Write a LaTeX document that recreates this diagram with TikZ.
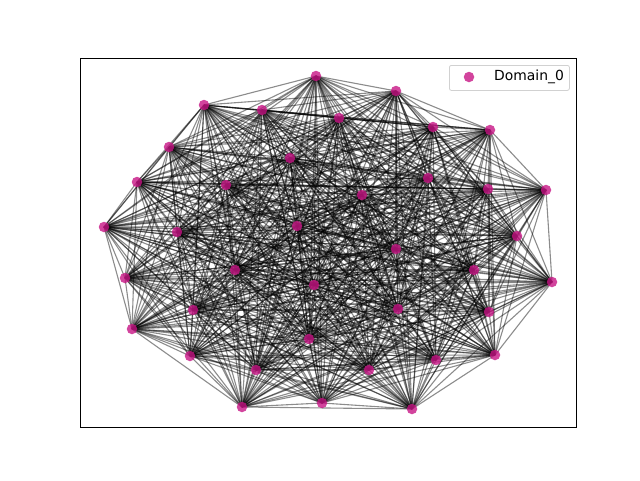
\documentclass[tikz,border=0pt]{standalone}
\usepackage{fontspec}
\setsansfont{DejaVu Sans}
\usetikzlibrary{backgrounds}
\definecolor{domaincol}{RGB}{199,21,133}

\begin{document}
\begin{tikzpicture}[x=1pt,y=-1pt,
    dot/.style={circle, fill=domaincol, fill opacity=0.8, draw=none, minimum size=10.5pt, inner sep=0pt},
    edge/.style={black, opacity=0.45, line width=1.1pt},
    frame/.style={draw=black, line width=1.1pt},
    legbox/.style={draw=black!18, fill=white, fill opacity=0.8, rounded corners=2pt, line width=0.8pt}
]
    \useasboundingbox (0,0) rectangle (640,480);

    % the nodes of Domain_0
    \foreach \x/\y [count=\n] in {
        316/76, 204/105, 262/110, 169/147, 290/158, 137/182, 226/185, 104/227,
        177/232, 297/226, 396/91, 339/118, 433/127, 490/130, 428/178, 488/189,
        546/190, 362/195, 517/236, 125/278, 235/270, 314/285, 193/310, 132/329,
        309/339, 190/356, 256/370, 242/407, 322/403, 396/249, 474/270, 552/282,
        398/309, 489/312, 495/355, 436/360, 369/370, 412/409} {
        \node[dot] (n\n) at (\x,\y) {};
    }

    % every pair is joined
    \begin{pgfonlayer}{background}
        \foreach \i in {1,...,37} {
            \pgfmathtruncatemacro\k{\i+1}
            \foreach \j in {\k,...,38} {
                \draw[edge] (n\i.center) -- (n\j.center);
            }
        }
    \end{pgfonlayer}

    \node[frame, minimum width=496pt, minimum height=369pt, anchor=north west] (axes) at (80,58) {};

    % legend
    \node[legbox, minimum width=120pt, minimum height=25pt, anchor=north west] (legend) at (449,65) {};
    \node[dot] (legdot) at (469,77) {};
    \node[anchor=west, inner sep=0pt, font=\sffamily\fontsize{13.9}{16}\selectfont] (legtext) at (494,77) {Domain\_0};
\end{tikzpicture}
\end{document}
